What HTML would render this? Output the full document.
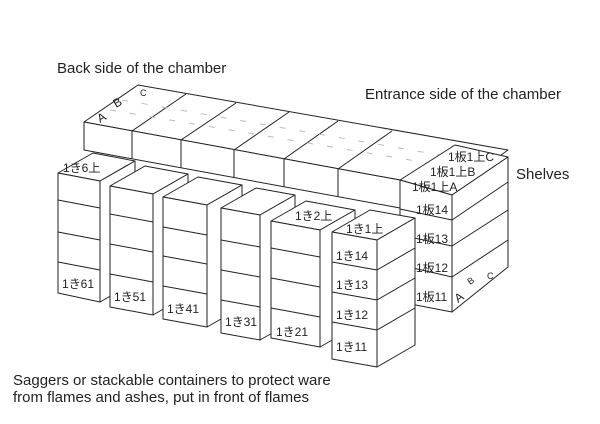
<!DOCTYPE html>
<html><head><meta charset="utf-8"><style>
html,body{margin:0;padding:0;background:#fff;}
svg{display:block}
text{font-family:"Liberation Sans","Noto Sans CJK JP",sans-serif;fill:#222}
.h{font-size:12px}
</style></head><body>
<svg width="600" height="424" viewBox="0 0 600 424" xmlns="http://www.w3.org/2000/svg">
<g stroke="#222" stroke-width="1" fill="#fff" stroke-linejoin="round">
<polygon points="84,122 138,85 508,150 455,188 400,180"/>
<polygon points="84,122 400,180 400,208 84,150"/>
<g fill="none">
<line x1="132" y1="131" x2="186" y2="94"/>
<line x1="181" y1="140" x2="236" y2="103"/>
<line x1="234" y1="150" x2="289" y2="112"/>
<line x1="284" y1="159" x2="338" y2="121"/>
<line x1="338" y1="169" x2="392" y2="131"/>
<line x1="132" y1="131" x2="132" y2="159"/>
<line x1="181" y1="140" x2="181" y2="168"/>
<line x1="234" y1="150" x2="234" y2="178"/>
<line x1="284" y1="159" x2="284" y2="187"/>
<line x1="338" y1="169" x2="338" y2="197"/>
</g>
<g stroke="#bbb" stroke-dasharray="6,14" fill="none">
<line x1="110" y1="110" x2="470" y2="170"/>
<line x1="122" y1="100" x2="480" y2="162"/>
</g>
<polygon points="400,180 455,145 508,157 452,195"/>
<polygon points="400,180 452,195 452,312 400,302"/>
<polygon points="452,195 508,157 508,267 452,312"/>
<g fill="none">
<line x1="400" y1="209" x2="452" y2="220"/>
<line x1="400" y1="235" x2="452" y2="246"/>
<line x1="400" y1="265" x2="452" y2="277"/>
<line x1="452" y1="220" x2="508" y2="182"/>
<line x1="452" y1="246" x2="508" y2="210"/>
<line x1="452" y1="277" x2="508" y2="240"/>
</g>
<polygon points="58,173 100,181 135,161 93,153"/>
<polygon points="58,173 100,181 100,302 58,293"/>
<polygon points="100,181 135,161 135,282 100,302"/>
<line x1="58" y1="200" x2="100" y2="208"/><line x1="58" y1="232" x2="100" y2="240"/><line x1="58" y1="262" x2="100" y2="270"/>
<polygon points="110,186 153,194 188,174 145,166"/>
<polygon points="110,186 153,194 153,315 110,307"/>
<polygon points="153,194 188,174 188,295 153,315"/>
<line x1="110" y1="214" x2="153" y2="222"/><line x1="110" y1="244" x2="153" y2="252"/><line x1="110" y1="274" x2="153" y2="282"/>
<polygon points="163,197 207,205 242,185 198,177"/>
<polygon points="163,197 207,205 207,327 163,319"/>
<polygon points="207,205 242,185 242,307 207,327"/>
<line x1="163" y1="227" x2="207" y2="235"/><line x1="163" y1="256" x2="207" y2="264"/><line x1="163" y1="286" x2="207" y2="294"/>
<polygon points="221,208 260,215 295,195 256,188"/>
<polygon points="221,208 260,215 260,340 221,333"/>
<polygon points="260,215 295,195 295,320 260,340"/>
<line x1="221" y1="240" x2="260" y2="247"/><line x1="221" y1="270" x2="260" y2="277"/><line x1="221" y1="300" x2="260" y2="307"/>
<polygon points="271,221 320,230 355,210 306,201"/>
<polygon points="271,221 320,230 320,347 271,338"/>
<polygon points="320,230 355,210 355,327 320,347"/>
<line x1="271" y1="248" x2="320" y2="257"/><line x1="271" y1="278" x2="320" y2="287"/><line x1="271" y1="308" x2="320" y2="317"/>
<polygon points="332,232 377,240 415,218 370,210"/>
<polygon points="332,232 377,240 377,367 332,359"/>
<polygon points="377,240 415,218 415,345 377,367"/>
<line x1="332" y1="262" x2="377" y2="270"/><line x1="332" y1="292" x2="377" y2="300"/><line x1="332" y1="322" x2="377" y2="330"/>
<line x1="377" y1="270" x2="415" y2="248"/><line x1="377" y1="300" x2="415" y2="278"/><line x1="377" y1="330" x2="415" y2="308"/>
</g>
<text x="57" y="73" font-size="15">Back side of the chamber</text>
<text x="365" y="99" font-size="15">Entrance side of the chamber</text>
<text x="516" y="179" font-size="15">Shelves</text>
<text x="13" y="385" font-size="15">Saggers or stackable containers to protect ware</text>
<text x="13" y="402" font-size="15">from flames and ashes, put in front of flames</text>
<g class="h">
<text x="100" y="123" transform="rotate(-30 100 123)">A</text>
<text x="116" y="108" transform="rotate(-30 116 108)">B</text>
<text x="140" y="96" font-size="9">C</text>
<text x="63" y="172">1き6上</text>
<text x="295" y="220">1き2上</text>
<text x="346" y="233">1き1上</text>
<text x="62" y="288">1き61</text>
<text x="114" y="301">1き51</text>
<text x="167" y="313">1き41</text>
<text x="225" y="326">1き31</text>
<text x="276" y="336">1き21</text>
<text x="336" y="260">1き14</text>
<text x="336" y="289">1き13</text>
<text x="336" y="319">1き12</text>
<text x="336" y="351">1き11</text>
<text x="448" y="161">1板1上C</text>
<text x="430" y="176">1板1上B</text>
<text x="412" y="191">1板1上A</text>
<text x="416" y="214">1板14</text>
<text x="416" y="243">1板13</text>
<text x="416" y="272">1板12</text>
<text x="416" y="301">1板11</text>
<text x="458" y="303" transform="rotate(-35 458 303)">A</text>
<text x="470" y="285" font-size="9" transform="rotate(-35 470 285)">B</text>
<text x="487" y="279" font-size="9">C</text>
</g>
</svg>
</body></html>
